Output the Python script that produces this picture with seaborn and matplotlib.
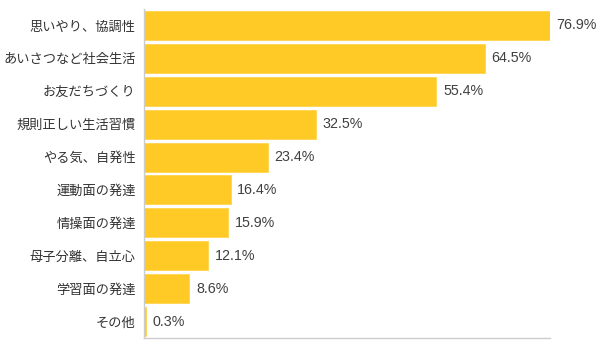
import matplotlib
matplotlib.use("Agg")
import matplotlib.pyplot as plt
import seaborn as sns
import pandas as pd

categories = [
    "思いやり、協調性",
    "あいさつなど社会生活",
    "お友だちづくり",
    "規則正しい生活習慣",
    "やる気、自発性",
    "運動面の発達",
    "情操面の発達",
    "母子分離、自立心",
    "学習面の発達",
    "その他",
]
values = [76.9, 64.5, 55.4, 32.5, 23.4, 16.4, 15.9, 12.1, 8.6, 0.3]

df = pd.DataFrame({"item": categories, "pct": values})

sns.set_theme(style="white")
plt.rcParams["font.family"] = ["Noto Sans CJK JP", "DejaVu Sans"]

fig = plt.figure(figsize=(6.04, 3.47), dpi=100)
ax = fig.add_axes([144 / 604, 9 / 347, 406 / 604, 329 / 347])

sns.barplot(data=df, x="pct", y="item", orient="h", color="#FFC926",
            saturation=1, width=0.88, edgecolor="#FFD450", linewidth=0.6, ax=ax)

ax.set_xlim(0, max(values))
ax.set_ylim(len(values) - 0.5, -0.5)

for i, v in enumerate(values):
    ax.annotate(f"{v:.1f}%", xy=(v, i), xytext=(4.8, 0), textcoords="offset points",
                va="center", ha="left", fontsize=10.3, color="#404040",
                family=["Liberation Sans", "DejaVu Sans"],
                annotation_clip=False)

ax.set_xlabel("")
ax.set_ylabel("")
ax.set_xticks([])
ax.tick_params(axis="y", length=0, pad=6, labelsize=9.5, labelcolor="#333333")
for side in ["top", "right"]:
    ax.spines[side].set_visible(False)
for side in ["left", "bottom"]:
    ax.spines[side].set_visible(True)
    ax.spines[side].set_color("#CCCCCC")
    ax.spines[side].set_linewidth(1)

fig.savefig("out.png", dpi=100)
